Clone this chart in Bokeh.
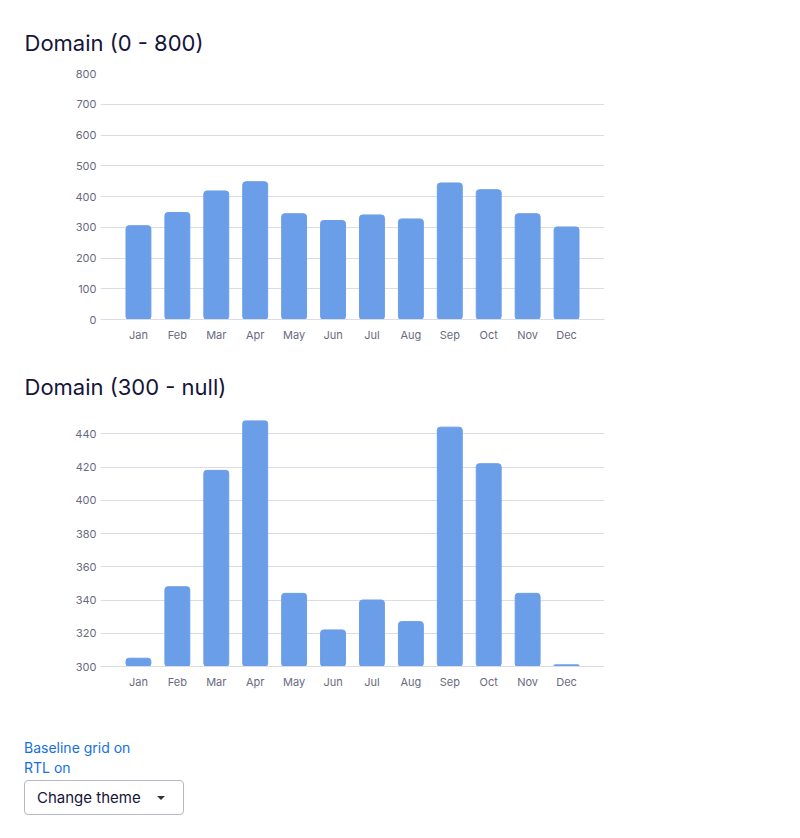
from bokeh.plotting import figure
from bokeh.models import FactorRange, Range1d, FixedTicker, Div, Dropdown, InlineStyleSheet
from bokeh.layouts import column
from bokeh.embed import file_html
from bokeh.resources import INLINE

months = ["Jan", "Feb", "Mar", "Apr", "May", "Jun", "Jul", "Aug", "Sep", "Oct", "Nov", "Dec"]
values = [305, 348, 418, 448, 344, 322, 340, 327, 444, 422, 344, 301]
y1_ticks = [0, 100, 200, 300, 400, 500, 600, 700, 800]
y2_ticks = [300, 320, 340, 360, 380, 400, 420, 440]

BAR = "#6b9ee9"
GRID = "#dcdce6"
LABEL = "#6a6a80"
TITLE = "#15153a"
FONT = "Inter"


def make(title, ymin, ymax, ticks, top_border, bottom_border, standoff):
    p = figure(
        x_range=FactorRange(factors=months, range_padding=0.475, range_padding_units="absolute"),
        y_range=Range1d(ymin, ymax),
        frame_width=504, frame_height=246,
        min_border_left=100, min_border_right=196,
        min_border_top=top_border, min_border_bottom=bottom_border,
        output_backend="svg", toolbar_location=None, title=title,
    )
    p.title.text_font = FONT
    p.title.text_font_size = "22px"
    p.title.text_font_style = "normal"
    p.title.text_color = TITLE
    p.title.offset = -76
    p.title.standoff = standoff
    p.outline_line_color = None
    p.background_fill_color = "white"
    p.border_fill_color = "white"

    p.vbar(x=months, top=values, bottom=ymin, width=0.64, color=BAR, border_radius=3)

    p.xgrid.grid_line_color = None
    p.ygrid.grid_line_color = GRID
    p.ygrid.ticker = FixedTicker(ticks=ticks)
    p.yaxis.ticker = FixedTicker(ticks=ticks)
    p.yaxis.axis_line_color = None
    p.yaxis.major_tick_line_color = None
    p.yaxis.minor_tick_line_color = None
    p.yaxis.major_tick_out = 0
    p.yaxis.major_label_standoff = 4
    p.xaxis.axis_line_color = GRID
    p.xaxis.major_tick_line_color = None
    p.xaxis.minor_tick_line_color = None
    p.xaxis.major_tick_out = 0
    p.xaxis.major_label_standoff = 8
    for ax in (p.xaxis, p.yaxis):
        ax.major_label_text_font = FONT
        ax.major_label_text_font_size = "11px"
        ax.major_label_text_color = LABEL
    return p


p1 = make("Domain (0 - 800)", 0, 800, y1_ticks, 73, 26, 36)
p2 = make("Domain (300 - null)", 300, max(values), y2_ticks, 75, 26, 41)

links = Div(
    text='<div style="font-family:Inter;font-size:14px;line-height:20px;color:#1570e0">'
         'Baseline grid on<br>RTL on</div>',
    margin=(46, 0, 0, 24),
)

dd_style = InlineStyleSheet(css="""
.bk-btn { background: #fff; border: 1px solid #b8b8c4; border-radius: 4px;
  font-family: Inter; font-size: 15px; color: #15153a; padding: 6px 12px;
  display: flex; justify-content: space-between; align-items: center; }
.bk-caret { margin-left: 8px; margin-right: 6px; border-top-width: 6px;
  border-left-width: 5px; border-right-width: 5px; color: #333; }
""")
dropdown = Dropdown(label="Change theme", menu=[("Light", "light"), ("Dark", "dark")],
                    width=160, height=35, margin=(2, 0, 0, 24), stylesheets=[dd_style])

layout = column(p1, p2, links, dropdown, spacing=0)
open("out.html", "w").write(file_html(layout, INLINE))
